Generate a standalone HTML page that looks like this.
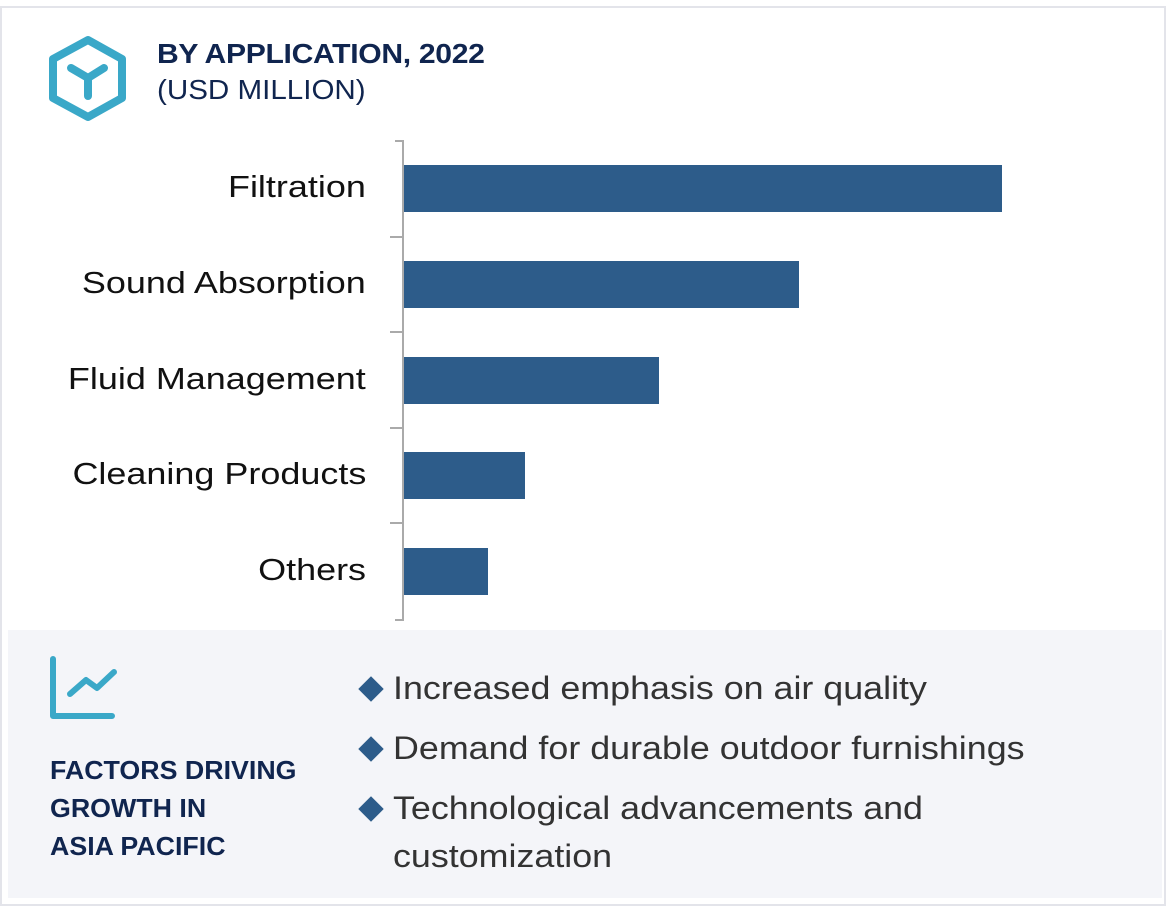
<!DOCTYPE html>
<html><head><meta charset="utf-8"><style>
body{margin:0;width:1170px;height:909px;background:#fff;font-family:"Liberation Sans",Arial,sans-serif;position:relative;overflow:hidden}
.frame{position:absolute;left:0;top:6px;width:1166px;height:900px;border:2px solid #e3e4ea;box-sizing:border-box}
.t1{position:absolute;left:157px;top:38px;font-size:28px;font-weight:bold;color:#10254f;letter-spacing:-0.3px;transform:scaleX(1.075);transform-origin:left}
.t2{position:absolute;left:157px;top:74px;font-size:28px;color:#10254f;transform:scaleX(1.056);transform-origin:left}
.lab{position:absolute;right:804px;font-size:31px;color:#111;white-space:nowrap;transform:scaleX(1.16);transform-origin:right}
.bar{position:absolute;left:404px;height:47px;background:#2d5c8a}
.panel{position:absolute;left:8px;top:630px;width:1154px;height:268px;background:#f4f5f9}
.f{position:absolute;left:50px;font-size:26px;font-weight:bold;color:#10254f;transform:scaleX(1.03);transform-origin:left}
.b{position:absolute;left:393px;font-size:32px;color:#333;white-space:nowrap;transform:scaleX(1.12);transform-origin:left}
.d{position:absolute;left:362px;width:18px;height:18px;background:#2d5c8a;transform:rotate(45deg)}
</style></head><body>
<div class="frame"></div>
<svg style="position:absolute;left:0;top:0" width="1170" height="909">
<polygon points="88,40 122,59 122,98 88,117 53,98 53,59" fill="none" stroke="#3aa8c8" stroke-width="8" stroke-linejoin="round"/>
<path d="M71,68 L88,78 L104,68 M88,78 L88,96" fill="none" stroke="#3aa8c8" stroke-width="8" stroke-linecap="round"/>
<path d="M395,141 H403 V620 H395 M390,237 H403 M390,332 H403 M390,428 H403 M390,523 H403" fill="none" stroke="#aaa" stroke-width="2"/>
</svg>
<div class="t1">BY APPLICATION, 2022</div>
<div class="t2">(USD MILLION)</div>
<div class="lab" style="top:169px">Filtration</div>
<div class="lab" style="top:265px">Sound Absorption</div>
<div class="lab" style="top:361px">Fluid Management</div>
<div class="lab" style="top:456px">Cleaning Products</div>
<div class="lab" style="top:552px">Others</div>
<div class="bar" style="top:165px;width:598px"></div>
<div class="bar" style="top:261px;width:395px"></div>
<div class="bar" style="top:357px;width:255px"></div>
<div class="bar" style="top:452px;width:121px"></div>
<div class="bar" style="top:548px;width:84px"></div>
<div class="panel"></div>
<svg style="position:absolute;left:0;top:620" width="200" height="120">
<path d="M53,39 V96 H112" fill="none" stroke="#3aa8c8" stroke-width="6" stroke-linecap="round" stroke-linejoin="round"/>
<path d="M70,74 L86,60 L97,68 L114,52" fill="none" stroke="#3aa8c8" stroke-width="6" stroke-linecap="round" stroke-linejoin="round"/>
</svg>
<div class="f" style="top:755px">FACTORS DRIVING</div>
<div class="f" style="top:793px">GROWTH IN</div>
<div class="f" style="top:831px">ASIA PACIFIC</div>
<div class="d" style="top:680px"></div>
<div class="d" style="top:740px"></div>
<div class="d" style="top:800px"></div>
<div class="b" style="top:670px">Increased emphasis on air quality</div>
<div class="b" style="top:730px">Demand for durable outdoor furnishings</div>
<div class="b" style="top:790px">Technological advancements and</div>
<div class="b" style="top:838px">customization</div>
</body></html>
